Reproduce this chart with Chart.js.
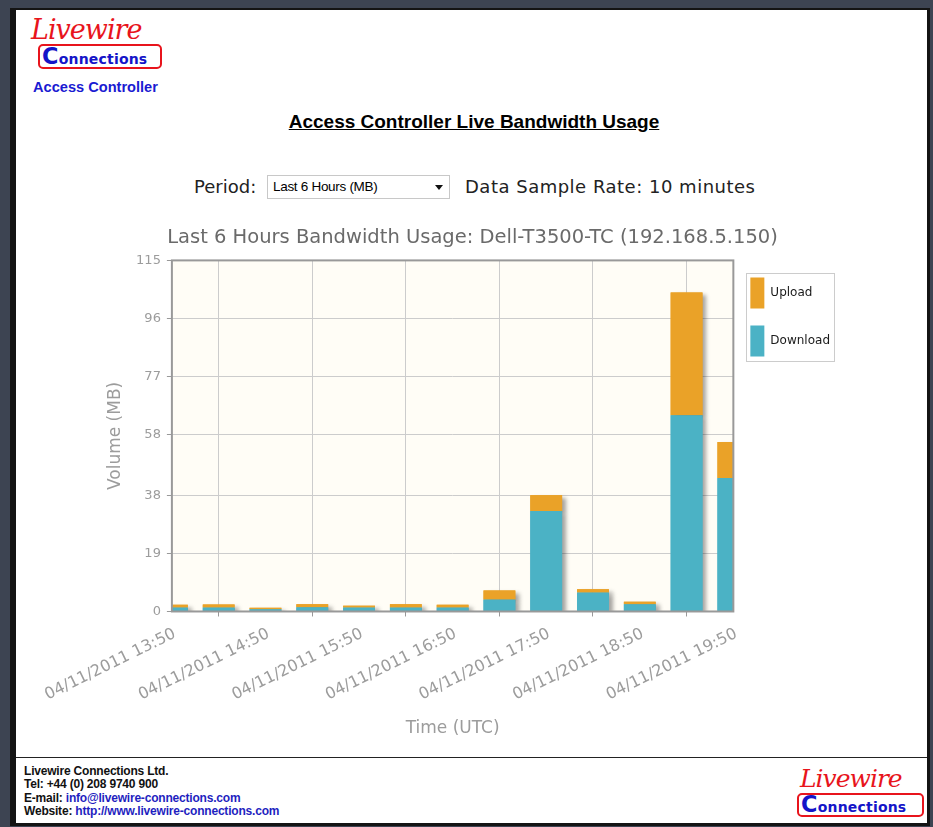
<!DOCTYPE html>
<html>
<head>
<meta charset="utf-8">
<title>Access Controller Live Bandwidth Usage</title>
<script src="https://cdn.jsdelivr.net/npm/chart.js@4.4.0/dist/chart.umd.min.js"></script>
<style>
    html, body { margin: 0; padding: 0; }
    body {
        width: 933px; height: 827px; position: relative; overflow: hidden;
        background: #3d4452; font-family: "DejaVu Sans", sans-serif; color: #111;
    }
    #page {
        position: absolute; left: 10px; top: 8px; width: 911px; height: 813px;
        background: #fff;
        border-left: 6px solid #141414; border-top: 2px solid #141414;
        border-right: 3px solid #141414; border-bottom: 3px solid #141414;
    }
    .abs { position: absolute; white-space: nowrap; }

    /* logo */
    .lw-script {
        font-family: "DejaVu Serif", serif; font-style: italic; color: #e8141c;
        letter-spacing: -1px;
    }
    .lw-box {
        border: 2px solid #e8141c; border-radius: 5px; box-sizing: border-box;
        color: #1414c8; font-family: "DejaVu Sans", sans-serif; font-weight: bold;
        letter-spacing: 0.2px;
    }
    .lw-box b { font-size: 1.6em; line-height: 0.8; }

    #subtitle { left: 33px; top: 79px; font: bold 14.6px "Liberation Sans", sans-serif; color: #1a1ad2; }
    #heading {
        left: 0; width: 948px; top: 111px; text-align: center;
        font: bold 19px "Liberation Sans", sans-serif; text-decoration: underline; color: #000;
    }
    .row { top: 176px; font-size: 18px; line-height: 22px; color: #222; }
    #period-select {
        left: 267px; top: 175px; width: 183px; height: 24px; box-sizing: border-box;
        border: 1px solid #c8c8c8; background: #fff;
        font: 13.5px "Liberation Sans", sans-serif; letter-spacing: -0.3px; line-height: 22px;
        padding-left: 5px; color: #000;
    }
    #period-select .arrow {
        position: absolute; right: 6px; top: 9px; width: 0; height: 0;
        border-left: 4px solid transparent; border-right: 4px solid transparent; border-top: 5px solid #111;
    }
    #chart-wrap { position: absolute; left: 35px; top: 215px; width: 815px; height: 532px; }

    #footer-line { position: absolute; left: 16px; top: 757px; width: 911px; height: 1px; background: #222; }
    #footer {
        left: 24px; top: 765px; font: bold 12px "Liberation Sans", sans-serif; line-height: 13.4px;
        color: #111; letter-spacing: -0.2px;
    }
    #footer a { color: #1f1fc0; text-decoration: none; }
</style>
</head>
<body>
<div id="page"></div>

<!-- header logo -->
<div class="abs lw-script" style="left:31px; top:14px; font-size:27px;">Livewire</div>
<div class="abs lw-box" style="left:38px; top:44px; width:124px; height:25px; font-size:14px; padding:2px 0 0 2px;"><b>C</b>onnections</div>
<div class="abs" id="subtitle">Access Controller</div>

<div class="abs" id="heading">Access Controller Live Bandwidth Usage</div>

<div class="abs row" style="left:194px;">Period:</div>
<div class="abs" id="period-select">Last 6 Hours (MB)<span class="arrow"></span></div>
<div class="abs row" style="left:465px; letter-spacing:0.5px;">Data Sample Rate: 10 minutes</div>

<div id="chart-wrap"><canvas id="chart" width="815" height="532"></canvas></div>

<div id="footer-line"></div>
<div class="abs" id="footer">
    Livewire Connections Ltd.<br>
    Tel: +44 (0) 208 9740 900<br>
    E-mail: <a href="#">info@livewire-connections.com</a><br>
    Website: <a href="#">http://www.livewire-connections.com</a>
</div>
<div class="abs lw-script" style="left:800px; top:764px; font-size:25px;">Livewire</div>
<div class="abs lw-box" style="left:797px; top:793px; width:127px; height:24px; font-size:14px; padding:1px 0 0 2px;"><b>C</b>onnections</div>

<script>
// 30 分刻みのカテゴリ（ラベルは1時間ごとに表示）
const TIME_LABELS = [
    '04/11/2011 13:50', '04/11/2011 14:20', '04/11/2011 14:50', '04/11/2011 15:20',
    '04/11/2011 15:50', '04/11/2011 16:20', '04/11/2011 16:50', '04/11/2011 17:20',
    '04/11/2011 17:50', '04/11/2011 18:20', '04/11/2011 18:50', '04/11/2011 19:20',
    '04/11/2011 19:50',
];
const DOWNLOAD_MB = [1.3, 1.3, 0.75, 1.4, 1.3, 1.3, 1.3, 3.9, 32.9, 6.2, 2.4, 64.3, 43.7];
const UPLOAD_MB   = [0.9, 1.0, 0.45, 1.0, 0.6, 1.1, 0.9, 3.0, 5.2, 1.1, 0.8, 40.2, 11.8];
const Y_TICKS = [0, 19, 38, 58, 77, 96, 115];
const Y_MAX = 115;

const CHART_TITLE = 'Last 6 Hours Bandwidth Usage: Dell-T3500-TC (192.168.5.150)';
const COLOR_DOWNLOAD = '#4bb2c5';
const COLOR_UPLOAD = '#eaa228';
const AXIS_TEXT = '#9c9c9c';

/**
 * jqPlot 風の描画: プロット背景・棒の影・外枠・凡例の枠
 */
const plotFrame = {
    id: 'plotFrame',
    beforeDraw(chart) {
        const { ctx, chartArea: a } = chart;
        ctx.save();
        ctx.fillStyle = '#fffdf6';
        ctx.fillRect(a.left, a.top, a.width, a.height);
        ctx.restore();
    },
    beforeDatasetsDraw(chart) {
        const { ctx, chartArea: a } = chart;
        ctx.save();
        ctx.beginPath();
        ctx.rect(a.left, a.top, a.width, a.height);
        ctx.clip();
        ctx.shadowColor = 'rgba(0, 0, 0, 0.35)';
        ctx.shadowBlur = 4;
        ctx.shadowOffsetX = 4;
        ctx.shadowOffsetY = 3;
        for (const meta of chart.getSortedVisibleDatasetMetas()) {
            for (const bar of meta.data) {
                const { x, y, base, width } = bar.getProps(['x', 'y', 'base', 'width'], true);
                ctx.fillStyle = bar.options.backgroundColor;
                ctx.fillRect(x - width / 2, Math.min(y, base), width, Math.abs(base - y));
            }
        }
        ctx.restore();
    },
    afterDatasetsDraw(chart) {
        const { ctx, chartArea: a } = chart;
        ctx.save();
        ctx.strokeStyle = '#999999';
        ctx.lineWidth = 2;
        ctx.strokeRect(a.left, a.top, a.width, a.height);
        ctx.restore();
    },
    afterDraw(chart) {
        const boxes = chart.legend && chart.legend.legendHitBoxes;
        if (!boxes || !boxes.length) return;
        const left = Math.min(...boxes.map(b => b.left)) - 4;
        const top = Math.min(...boxes.map(b => b.top)) - 4;
        const right = Math.max(...boxes.map(b => b.left + b.width)) + 4;
        const bottom = Math.max(...boxes.map(b => b.top + b.height)) + 5;
        const { ctx } = chart;
        ctx.save();
        ctx.strokeStyle = '#cccccc';
        ctx.lineWidth = 1;
        ctx.strokeRect(Math.round(left) + 0.5, Math.round(top) + 0.5, Math.round(right - left), Math.round(bottom - top));
        ctx.restore();
    },
};

window.onload = function () {
    new Chart(document.getElementById('chart'), {
        type: 'bar',
        data: {
            labels: TIME_LABELS,
            datasets: [
                { label: 'Download', data: DOWNLOAD_MB, backgroundColor: COLOR_DOWNLOAD, borderWidth: 0 },
                { label: 'Upload', data: UPLOAD_MB, backgroundColor: COLOR_UPLOAD, borderWidth: 0 },
            ],
        },
        options: {
            responsive: false,
            animation: false,
            barPercentage: 0.68,
            categoryPercentage: 1,
            layout: { padding: { left: 70, right: 10, top: 0, bottom: 4 } },
            plugins: {
                title: {
                    display: true, text: CHART_TITLE, color: '#6a6a6a',
                    font: { family: 'DejaVu Sans', size: 19.5, weight: 'normal' },
                    padding: { top: 11, bottom: 11 },
                },
                legend: {
                    position: 'right', align: 'start', reverse: true, fullSize: false,
                    labels: {
                        boxWidth: 14, boxHeight: 31, padding: 17, color: '#1a1a1a',
                        font: { family: 'DejaVu Sans', size: 12 },
                    },
                },
                tooltip: { enabled: false },
            },
            scales: {
                x: {
                    stacked: true,
                    offset: false,
                    border: { display: false },
                    grid: { color: '#cccccc', tickColor: '#999999', tickLength: 5 },
                    ticks: {
                        autoSkip: false, minRotation: 26, maxRotation: 26,
                        padding: 8, labelOffset: 3,
                        color: AXIS_TEXT, font: { family: 'DejaVu Sans', size: 16 },
                        callback: (value, i) => (i % 2 === 0 ? TIME_LABELS[i] : null),
                    },
                    title: {
                        display: true, text: 'Time (UTC)', color: AXIS_TEXT,
                        font: { family: 'DejaVu Sans', size: 17 }, padding: { top: 6, bottom: 4 },
                    },
                },
                y: {
                    stacked: true,
                    min: 0,
                    max: Y_MAX,
                    border: { display: false },
                    grid: { color: '#cccccc', tickColor: '#999999', tickLength: 5 },
                    afterBuildTicks: scale => { scale.ticks = Y_TICKS.map(v => ({ value: v })); },
                    ticks: {
                        padding: 6, color: AXIS_TEXT, font: { family: 'DejaVu Sans', size: 13 },
                        callback: value => String(value),
                    },
                    title: {
                        display: true, text: 'Volume (MB)', color: AXIS_TEXT,
                        font: { family: 'DejaVu Sans', size: 17 }, padding: { top: 0, bottom: 4 },
                    },
                },
            },
        },
        plugins: [plotFrame],
    });
};
</script>
</body>
</html>
